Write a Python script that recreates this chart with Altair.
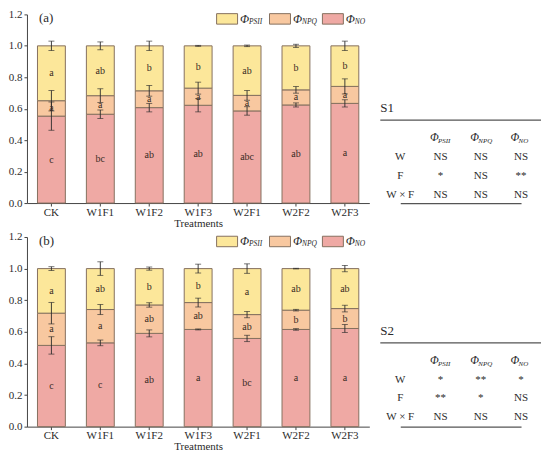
import altair as alt
import pandas as pd

treatments = ["CK", "W1F1", "W1F2", "W1F3", "W2F1", "W2F2", "W2F3"]
series = ["PSII", "NPQ", "NO"]
colors = ["#FCE79A", "#F8C8A0", "#EFA9A4"]

# Panel (a): fractions of each component
a_no = [0.553, 0.565, 0.607, 0.622, 0.586, 0.624, 0.634]
a_npq = [0.098, 0.118, 0.107, 0.109, 0.099, 0.096, 0.108]
a_psii = [0.349, 0.317, 0.286, 0.269, 0.315, 0.280, 0.258]
a_no_sd = [0.090, 0.027, 0.027, 0.042, 0.027, 0.013, 0.023]
a_npq_sd = [0.065, 0.044, 0.034, 0.038, 0.031, 0.021, 0.048]
a_psii_sd = [0.030, 0.025, 0.030, 0.003, 0.005, 0.010, 0.030]
a_no_let = ["c", "bc", "ab", "ab", "abc", "ab", "a"]
a_npq_let = ["a", "a", "a", "a", "a", "a", "a"]
a_psii_let = ["a", "ab", "b", "b", "ab", "b", "b"]

# Panel (b)
b_no = [0.514, 0.530, 0.590, 0.615, 0.558, 0.615, 0.621]
b_npq = [0.204, 0.211, 0.180, 0.170, 0.151, 0.122, 0.126]
b_psii = [0.282, 0.259, 0.230, 0.215, 0.291, 0.263, 0.253]
b_no_sd = [0.055, 0.018, 0.022, 0.003, 0.020, 0.005, 0.025]
b_npq_sd = [0.068, 0.032, 0.014, 0.028, 0.020, 0.005, 0.021]
b_psii_sd = [0.012, 0.043, 0.010, 0.028, 0.030, 0.002, 0.020]
b_no_let = ["c", "c", "ab", "a", "bc", "a", "a"]
b_npq_let = ["a", "a", "ab", "ab", "ab", "b", "b"]
b_psii_let = ["a", "ab", "b", "b", "a", "ab", "ab"]

# Significance tables
effects = ["W", "F", "W × F"]
s1_psii = ["NS", "*", "NS"]
s1_npq = ["NS", "NS", "NS"]
s1_no = ["NS", "**", "NS"]
s2_psii = ["*", "**", "NS"]
s2_npq = ["**", "*", "NS"]
s2_no = ["*", "NS", "NS"]

FONT = "Liberation Serif"
STROKE = "#86705F"
INK = "#2b2b2b"
LINE = "#555555"


def bar_panel(tag, no, npq, psii, no_sd, npq_sd, psii_sd, no_let, npq_let, psii_let, h):
    rows = []
    for i, t in enumerate(treatments):
        base = 0.0
        for s, v, sd, let in [("NO", no[i], no_sd[i], no_let[i]),
                              ("NPQ", npq[i], npq_sd[i], npq_let[i]),
                              ("PSII", psii[i], psii_sd[i], psii_let[i])]:
            top = base + v
            rows.append(dict(t=t, s=s, y0=base, y1=top, mid=(base + top) / 2,
                             lo=top - sd, hi=top + sd, let=let))
            base = top
    df = pd.DataFrame(rows)

    xs = alt.Scale(domain=treatments, paddingInner=0.43, paddingOuter=0.215)
    xa = alt.Axis(title="Treatments", labelAngle=0, tickSize=3, labelPadding=0,
                  titlePadding=0)
    ys = alt.Scale(domain=[0, 1.2], nice=False)
    ya = alt.Axis(values=[0, 0.2, 0.4, 0.6, 0.8, 1.0, 1.2], format=".1f", title=None,
                  grid=False, tickSize=3, labelPadding=2)
    X = alt.X("t:N", scale=xs, axis=xa, sort=treatments)

    def Y(f):
        return alt.Y(f, scale=ys, axis=ya)

    base = alt.Chart(df)
    bars = base.mark_bar(stroke=STROKE, strokeWidth=1, opacity=1).encode(
        x=X, y=Y("y0:Q"), y2="y1:Q",
        color=alt.Color("s:N", scale=alt.Scale(domain=series, range=colors), legend=None))
    err = base.mark_rule(color=INK, strokeWidth=0.9).encode(x=X, y=Y("lo:Q"), y2="hi:Q")
    cap_lo = base.mark_tick(color=INK, thickness=0.9, size=6).encode(x=X, y=Y("lo:Q"))
    cap_hi = base.mark_tick(color=INK, thickness=0.9, size=6).encode(x=X, y=Y("hi:Q"))
    letters = base.mark_text(font=FONT, fontSize=10, color="#3a2c24").encode(
        x=X, y=Y("mid:Q"), text="let:N")
    main = alt.layer(bars, err, cap_lo, cap_hi, letters)

    leg = pd.DataFrame({"s": series, "sub": ["PSII", "NPQ", "NO"]})
    lx = alt.X("s:N", scale=alt.Scale(type="point", domain=series, range=[200.5, 306.5], padding=0),
               axis=None)
    lb = alt.Chart(leg)
    sw = lb.mark_point(shape="M-1,-0.5H1V0.5H-1Z", size=441, filled=True, opacity=1,
                       stroke=STROKE, strokeWidth=1).encode(
        x=lx, y=alt.value(4.5),
        fill=alt.Fill("s:N", scale=alt.Scale(domain=series, range=colors), legend=None))
    phi = lb.mark_text(font=FONT, fontSize=12, fontStyle="italic", align="left", dx=13,
                       color=INK).encode(x=lx, y=alt.value(4.5), text=alt.value("Φ"))
    sub = lb.mark_text(font=FONT, fontSize=7.5, fontStyle="italic", align="left", dx=22, dy=3,
                       color=INK).encode(x=lx, y=alt.value(4.5), text="sub:N")
    legend = alt.layer(sw, phi, sub)

    label = alt.Chart(pd.DataFrame({"p": [tag]})).mark_text(
        font=FONT, fontSize=13, align="left", baseline="middle", color=INK).encode(
        x=alt.value(12), y=alt.value(4), text="p:N")

    return alt.layer(main, legend, label).resolve_scale(x="independent", fill="independent").properties(
        width=343, height=h)


def table_panel(title, psii, npq, no, h):
    cols = ["lab", "PSII", "NPQ", "NO"]
    rws = ["hdr"] + effects
    cells = []
    for i, e in enumerate(effects):
        cells.append(dict(c="lab", r=e, v=e))
        cells.append(dict(c="PSII", r=e, v=psii[i]))
        cells.append(dict(c="NPQ", r=e, v=npq[i]))
        cells.append(dict(c="NO", r=e, v=no[i]))
    cdf = pd.DataFrame(cells)
    hdf = pd.DataFrame({"c": ["PSII", "NPQ", "NO"], "r": ["hdr"] * 3, "sub": ["PSII", "NPQ", "NO"]})
    X = alt.X("c:N", scale=alt.Scale(type="point", domain=cols, range=[20, 141], padding=0),
              axis=alt.Axis(labels=False, ticks=False, title=None, domain=True,
                            domainColor=LINE, domainWidth=1.2))
    Y = alt.Y("r:N", scale=alt.Scale(type="point", domain=rws, range=[124, 180.5], padding=0),
              axis=None)
    body = alt.Chart(cdf).mark_text(font=FONT, fontSize=11, color=INK).encode(x=X, y=Y, text="v:N")
    hphi = alt.Chart(hdf).mark_text(font=FONT, fontSize=11.5, fontStyle="italic", align="left",
                                    dx=-10.5, color=INK).encode(x=X, y=Y, text=alt.value("Φ"))
    hsub = alt.Chart(hdf).mark_text(font=FONT, fontSize=7, fontStyle="italic", align="left",
                                    dx=-2.5, dy=3, color=INK).encode(x=X, y=Y, text="sub:N")
    ttl = alt.Chart(pd.DataFrame({"t": [title]})).mark_text(
        font=FONT, fontSize=13, align="left", baseline="middle", color=INK).encode(
        x=alt.value(0), y=alt.value(94), text="t:N")
    top = alt.Chart(pd.DataFrame({"k": [0]})).mark_rule(color=LINE, strokeWidth=1.2).encode(
        x=alt.value(0), x2=alt.value(161), y=alt.value(106))
    return alt.layer(body, hphi, hsub, ttl, top).properties(width=161, height=h)


bar_a = bar_panel("(a)", a_no, a_npq, a_psii, a_no_sd, a_npq_sd, a_psii_sd,
                  a_no_let, a_npq_let, a_psii_let, 189)
bar_b = bar_panel("(b)", b_no, b_npq, b_psii, b_no_sd, b_npq_sd, b_psii_sd,
                  b_no_let, b_npq_let, b_psii_let, 190)
tab_a = table_panel("S1", s1_psii, s1_npq, s1_no, 189)
tab_b = table_panel("S2", s2_psii, s2_npq, s2_no, 190)

chart = alt.vconcat(
    alt.hconcat(bar_a, tab_a, spacing=10),
    alt.hconcat(bar_b, tab_b, spacing=10),
    spacing=3,
).properties(padding=0).configure_view(stroke=None).configure_axis(
    labelFont=FONT, titleFont=FONT, labelFontSize=11, titleFontSize=11,
    titleFontWeight="normal", labelColor=INK, titleColor=INK,
    domainColor="#444", tickColor="#444", domainWidth=1, tickWidth=1)

chart.save("out.html", embed_options={"renderer": "svg", "actions": False})
